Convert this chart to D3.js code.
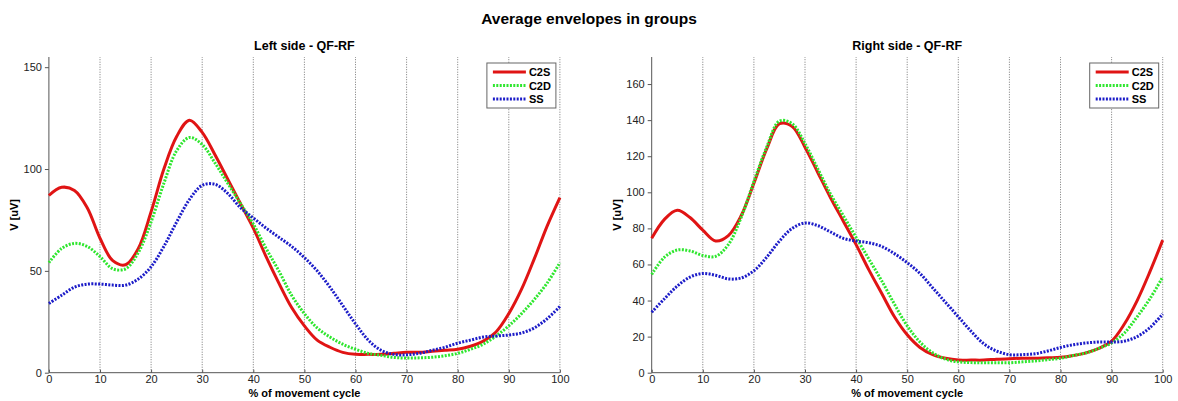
<!DOCTYPE html>
<html>
<head>
<meta charset="utf-8">
<script src="https://cdn.jsdelivr.net/npm/d3@7"></script>
<style>
  body { margin: 0; background: #fff; }
  text { font-family: "Liberation Sans", Arial, sans-serif; }
</style>
</head>
<body>
<div id="chart"></div>
<script>
// % of movement cycle, shared by every series
const cycle = d3.range(0, 100.1, 2.5);

const seriesNames = ["C2S", "C2D", "SS"];

const leftC2S = [87, 91, 89.5, 81, 66, 55, 53, 61, 79, 100, 116, 124, 118, 107, 95, 83, 71, 57, 44, 32, 23,
  16, 12.5, 10, 9, 9, 9, 9.5, 10, 10, 10.5, 11, 11.5, 13, 15.5, 20, 29, 41, 56, 72, 86];
const leftC2D = [54, 61, 63.5, 62, 57, 51, 51, 59, 74, 93, 109, 115.5, 112, 103, 93, 83, 73, 61, 50, 38, 29,
  22, 17.5, 14, 11.5, 9.5, 8.5, 7.5, 7.2, 7.3, 7.6, 8.3, 9.5, 11.5, 14, 18, 23, 29, 36, 44, 54];
const leftSS = [34, 38, 42, 43.5, 43.5, 43, 43, 46, 52, 62, 74, 85, 92, 92.5, 88, 81, 76, 71, 66.5, 62, 56.5,
  50, 42, 33, 24, 16, 11, 9, 8.8, 9.5, 11, 12.5, 14.5, 16, 17.5, 18, 18.5, 19.5, 22, 26.5, 32.5];

const rightC2S = [74.5, 85, 90, 86, 79, 73, 76, 87, 105, 124, 138, 136.5, 125, 111, 97, 84, 71, 57, 44, 31, 21,
  14, 10, 8, 7, 7, 7, 7.5, 7.8, 8, 8, 8.3, 8.5, 9.5, 11, 13.5, 17.5, 27, 40, 56, 73.5];
const rightC2D = [54.5, 64, 68, 67.5, 65, 64.5, 71, 86, 106, 125, 139.5, 138, 127, 113, 99, 87, 75, 63, 51, 38, 26,
  17, 11, 7.5, 6, 5.6, 5.5, 5.5, 5.5, 6, 6.5, 7.2, 8, 9.5, 11, 13.5, 16.5, 22, 31, 41, 53];
const rightSS = [33.5, 41, 48, 53, 55, 54, 52, 52.5, 56.5, 64, 73, 80, 83, 81.5, 78, 74.5, 73, 72, 70, 66, 61,
  55, 47, 39, 31, 23, 16, 12, 10, 10, 10.5, 12, 14, 15.5, 16.5, 17, 17, 17.5, 20, 25, 32.5];

const xTicks = d3.range(0, 101, 10);
const leftYTicks = [0, 50, 100, 150];
const rightYTicks = [0, 20, 40, 60, 80, 100, 120, 140, 160];

const width = 1178, height = 401;
const colors = { C2S: "#e01414", C2D: "#2ee62e", SS: "#1c1cc8" };
const dashes = { C2S: null, C2D: "2,1.4", SS: "2,1.4" };

const svg = d3.select("#chart").append("svg")
  .attr("width", width)
  .attr("height", height);

svg.append("text")
  .attr("x", 589).attr("y", 24)
  .attr("text-anchor", "middle")
  .attr("font-size", 15.5).attr("font-weight", "bold")
  .text("Average envelopes in groups");

function panel(opts) {
  const x = d3.scaleLinear().domain([0, 100]).range([opts.left, opts.left + 511]);
  const y = d3.scaleLinear().domain([0, opts.ymax]).range([372.7, 57]);

  const g = svg.append("g");

  // vertical grid
  g.selectAll(".grid")
    .data(xTicks.filter(d => d > 0))
    .enter().append("line")
    .attr("x1", d => x(d)).attr("x2", d => x(d))
    .attr("y1", y(0)).attr("y2", y(opts.ymax))
    .attr("stroke", "#777")
    .attr("stroke-width", 1)
    .attr("stroke-dasharray", "1,1.5");

  const xAxis = g.append("g")
    .attr("transform", `translate(0,${y(0)})`)
    .call(d3.axisBottom(x).tickValues(xTicks).tickSize(-3).tickPadding(3));
  const yAxis = g.append("g")
    .attr("transform", `translate(${x(0)},0)`)
    .call(d3.axisLeft(y).tickValues(opts.yTicks).tickSize(4).tickPadding(3));

  [xAxis, yAxis].forEach(a => {
    a.select(".domain").attr("stroke", "#555");
    a.selectAll(".tick line").attr("stroke", "#555");
    a.selectAll(".tick text").attr("font-size", 11).attr("fill", "#222")
      .attr("font-family", "Liberation Sans, Arial, sans-serif");
  });
  xAxis.select(".domain").attr("d", `M${x(0)},0H${x(100)}`);
  yAxis.select(".domain").attr("d", `M0,${y(0)}V${y(opts.ymax)}`);

  const line = d3.line()
    .x((d, i) => x(cycle[i]))
    .y(d => y(d))
    .curve(d3.curveCatmullRom);

  seriesNames.forEach(name => {
    g.append("path")
      .datum(opts.data[name])
      .attr("d", line)
      .attr("fill", "none")
      .attr("stroke", colors[name])
      .attr("stroke-width", 3)
      .attr("stroke-dasharray", dashes[name]);
  });

  // titles
  g.append("text")
    .attr("x", x(50)).attr("y", 50)
    .attr("text-anchor", "middle")
    .attr("font-size", 12.5).attr("font-weight", "bold")
    .text(opts.title);
  g.append("text")
    .attr("x", x(50)).attr("y", 397)
    .attr("text-anchor", "middle")
    .attr("font-size", 11).attr("font-weight", "bold")
    .text("% of movement cycle");
  g.append("text")
    .attr("transform", `translate(${opts.left - 31},${(y(0) + y(opts.ymax)) / 2}) rotate(-90)`)
    .attr("text-anchor", "middle")
    .attr("font-size", 11).attr("font-weight", "bold")
    .text("V [uV]");

  // legend
  const lx = x(100) - 73, ly = 63;
  const leg = g.append("g").attr("transform", `translate(${lx},${ly})`);
  leg.append("rect")
    .attr("width", 69).attr("height", 45)
    .attr("fill", "#fff").attr("stroke", "#666").attr("stroke-width", 1);
  seriesNames.forEach((name, i) => {
    const yy = 9 + i * 13.5;
    leg.append("line")
      .attr("x1", 6).attr("x2", 39).attr("y1", yy).attr("y2", yy)
      .attr("stroke", colors[name]).attr("stroke-width", 3)
      .attr("stroke-dasharray", dashes[name]);
    leg.append("text")
      .attr("x", 42).attr("y", yy + 4)
      .attr("font-size", 11).attr("font-weight", "bold")
      .text(name);
  });
}

panel({
  left: 48.9, ymax: 155, yTicks: leftYTicks, title: "Left side - QF-RF",
  data: { C2S: leftC2S, C2D: leftC2D, SS: leftSS }
});
panel({
  left: 651.7, ymax: 175, yTicks: rightYTicks, title: "Right side - QF-RF",
  data: { C2S: rightC2S, C2D: rightC2D, SS: rightSS }
});
</script>
</body>
</html>
